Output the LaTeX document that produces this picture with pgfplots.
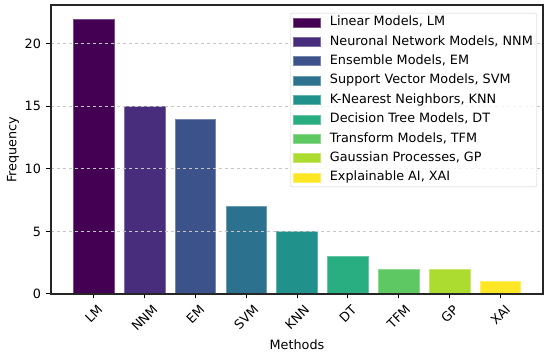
\documentclass[border=0pt]{standalone}
\usepackage{pgfplots}
\pgfplotsset{compat=1.18}
\usepackage{fontspec}
\setmainfont{DejaVu Sans}
\definecolor{c1}{HTML}{440154}
\definecolor{c2}{HTML}{472D7B}
\definecolor{c3}{HTML}{3B528B}
\definecolor{c4}{HTML}{2C728E}
\definecolor{c5}{HTML}{21918C}
\definecolor{c6}{HTML}{28AE80}
\definecolor{c7}{HTML}{5EC962}
\definecolor{c8}{HTML}{ADDC30}
\definecolor{c9}{HTML}{FDE725}
\begin{document}
\fontsize{12.8}{15}\selectfont
\begin{tikzpicture}
\begin{axis}[
  scale only axis, width=492pt, height=289pt,
  xmin=-0.84, xmax=8.84, ymin=0, ymax=23.1,
  ybar, bar width=0.8,
  every axis plot post/.append style={bar shift=0pt,
    legend image code/.code={\fill[##1, sharp corners, fill opacity=1] (0pt,-4.5pt) rectangle (26.7pt,4.5pt);}},
  xtick={0,1,2,3,4,5,6,7,8},
  xticklabels={\rotatebox{45}{LM},\rotatebox{45}{NNM},\rotatebox{45}{EM},\rotatebox{45}{SVM},\rotatebox{45}{KNN},\rotatebox{45}{DT},\rotatebox{45}{TFM},\rotatebox{45}{GP},\rotatebox{45}{XAI}},
  xticklabel style={anchor=north, yshift=-1pt},
  ytick={0,5,10,15,20},
  yticklabel style={xshift=-1pt},
  /pgf/number format/assume math mode=true,
  tick align=outside, major tick length=4.5pt,
  tick style={black, line width=1pt},
  xtick pos=bottom, ytick pos=left,
  axis line style={black!85, line width=1.1pt},
  ymajorgrids, grid style={dashed, gray!45, line width=0.8pt},
  axis on top,
  xlabel={Methods}, ylabel={Frequency},
  xlabel style={at={(axis description cs:0.5,0)}, anchor=center, yshift=-51pt},
  ylabel style={at={(axis description cs:-0.0772,0.5)}, anchor=center},
  legend style={at={(1,1)}, anchor=north east, xshift=-6pt, yshift=-8pt,
    draw=gray!35, rounded corners=2pt, fill=white, fill opacity=0.8, text opacity=1,
    inner xsep=3pt, inner ysep=2pt, row sep=4.9pt, column sep=8.5pt,
    nodes={inner sep=1pt, text height=9.5pt, text depth=3pt}},
  legend cell align=left,
]
\addplot[fill=c1, draw=c1!70!white, line width=0.5pt] coordinates {(0,22)};
\addplot[fill=c2, draw=c2!70!white, line width=0.5pt] coordinates {(1,15)};
\addplot[fill=c3, draw=c3!70!white, line width=0.5pt] coordinates {(2,14)};
\addplot[fill=c4, draw=c4!70!white, line width=0.5pt] coordinates {(3,7)};
\addplot[fill=c5, draw=c5!70!white, line width=0.5pt] coordinates {(4,5)};
\addplot[fill=c6, draw=c6!70!white, line width=0.5pt] coordinates {(5,3)};
\addplot[fill=c7, draw=c7!70!white, line width=0.5pt] coordinates {(6,2)};
\addplot[fill=c8, draw=c8!70!white, line width=0.5pt] coordinates {(7,2)};
\addplot[fill=c9, draw=c9!70!white, line width=0.5pt] coordinates {(8,1)};
\legend{{Linear Models, LM}, {Neuronal Network Models, NNM}, {Ensemble Models, EM}, {Support Vector Models, SVM}, {K-Nearest Neighbors, KNN}, {Decision Tree Models, DT}, {Transform Models, TFM}, {Gaussian Processes, GP}, {Explainable AI, XAI}}
\end{axis}
\path ([xshift=-51pt,yshift=-62pt]current axis.south west) rectangle ([xshift=7pt,yshift=5pt]current axis.north east);
\end{tikzpicture}
\end{document}
